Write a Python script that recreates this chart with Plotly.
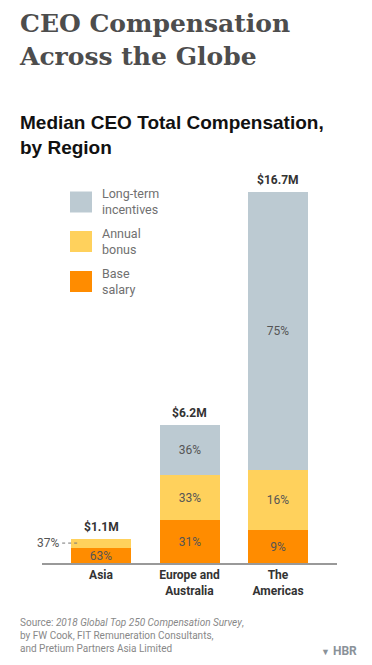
import plotly.graph_objects as go

W, H = 372, 665

regions = ["Asia", "Europe and<br>Australia", "The<br>Americas"]
totals = [1.1, 6.2, 16.7]            # $ millions
total_labels = ["$1.1M", "$6.2M", "$16.7M"]
base_pct = [63, 31, 9]
bonus_pct = [37, 33, 16]
lti_pct = [0, 36, 75]

series_names = ["Base salary", "Annual bonus", "Long-term incentives"]
legend_labels = ["Long-term<br>incentives", "Annual<br>bonus", "Base<br>salary"]
colors = {"Base salary": "#FF8C00", "Annual bonus": "#FFD15C", "Long-term incentives": "#BCCAD2"}

source_text = ("Source: <i>2018 Global Top 250 Compensation Survey</i>,<br>"
               "by FW Cook, FIT Remuneration Consultants,<br>"
               "and Pretium Partners Asia Limited")

def px(x):
    return x / W

def py(y):
    return 1 - y / H

xs = list(range(len(regions)))
BAR_W = 0.678
FONT = "Roboto"
TXT = "#555555"

fig = go.Figure()
pcts = [base_pct, bonus_pct, lti_pct]
for name, pct in zip(series_names, pcts):
    vals = [t * p / 100 for t, p in zip(totals, pct)]
    texts = []
    for i, p in enumerate(pct):
        if p == 0:
            texts.append("")
        elif name == "Annual bonus" and i == 0:
            texts.append("")  # labelled outside
        else:
            texts.append(f"{p}%")
    fig.add_trace(go.Bar(
        x=xs, y=vals, name=name, width=BAR_W,
        marker=dict(color=colors[name], line=dict(width=0)),
        text=texts, textposition="inside", insidetextanchor="middle",
        textfont=dict(family=FONT, size=12, color=TXT),
        hoverinfo="skip", showlegend=False,
    ))

annotations = []
# totals above bars
for x, t, lab in zip(xs, totals, total_labels):
    annotations.append(dict(x=x, y=t, xref="x", yref="y", text=f"<b>{lab}</b>",
                            showarrow=False, yanchor="bottom", yshift=3,
                            font=dict(family=FONT, size=12, color="#333333")))

# Asia bonus label outside with leader
asia_mid = totals[0] * (base_pct[0] + bonus_pct[0] / 2) / 100
left = xs[0] - BAR_W / 2
annotations.append(dict(x=left - 0.11, y=asia_mid, xref="x", yref="y",
                        text=f"{bonus_pct[0]}%", showarrow=False, xanchor="right",
                        font=dict(family=FONT, size=12, color=TXT)))
shapes = [dict(type="line", xref="x", yref="y", x0=left - 0.1, x1=left + 0.1,
               y0=asia_mid, y1=asia_mid, line=dict(color="#777777", width=1, dash="dot"))]

# custom legend
leg_y = [202, 241.5, 281.5]
for lab, name, yc in zip(legend_labels, series_names[::-1], leg_y):
    shapes.append(dict(type="rect", xref="paper", yref="paper",
                       x0=px(70), x1=px(92), y0=py(yc - 10.5), y1=py(yc + 10.5),
                       fillcolor=colors[name], line=dict(width=0)))
    annotations.append(dict(x=px(100), y=py(yc), xref="paper", yref="paper",
                            text=lab, showarrow=False, xanchor="left", yanchor="middle",
                            align="left", font=dict(family=FONT, size=12.5, color="#707070")))

# titles
annotations.append(dict(x=px(17), y=py(7), xref="paper", yref="paper",
                        text="<b>CEO Compensation<br>Across the Globe</b>",
                        showarrow=False, xanchor="left", yanchor="top", align="left",
                        font=dict(family="DejaVu Serif", size=25, color="#4d4d4d")))
annotations.append(dict(x=px(18), y=py(110), xref="paper", yref="paper",
                        text="<b>Median CEO Total Compensation,<br>by Region</b>",
                        showarrow=False, xanchor="left", yanchor="top", align="left",
                        font=dict(family="Liberation Sans", size=19, color="#111111")))
# source
annotations.append(dict(x=px(18), y=py(615), xref="paper", yref="paper",
                        text=source_text, showarrow=False, xanchor="left", yanchor="top",
                        align="left", font=dict(family=FONT, size=10, color="#888888")))
annotations.append(dict(x=px(359), y=py(651), xref="paper", yref="paper",
                        text="<b><span style='font-size:9px'>▼</span> HBR</b>", showarrow=False,
                        xanchor="right", yanchor="middle",
                        font=dict(family=FONT, size=12, color="#8a9299")))

base_px, top_px = 563, 150
fig.update_layout(
    width=W, height=H, margin=dict(l=0, r=0, t=0, b=0),
    paper_bgcolor="white", plot_bgcolor="white",
    barmode="stack", bargap=0,
    uniformtext=dict(minsize=11, mode="show"),
    xaxis=dict(domain=[px(42), px(337)], range=[-0.667, 2.667],
               tickmode="array", tickvals=xs, ticktext=[f"<b>{r}</b>" for r in regions],
               tickfont=dict(family=FONT, size=12, color="#333333"),
               showline=True, linecolor="#999999", linewidth=1.5,
               showgrid=False, zeroline=False, ticks=""),
    yaxis=dict(domain=[py(base_px), py(top_px)],
               range=[0, 16.7 * (base_px - top_px) / (563 - 192)],
               visible=False, showgrid=False, zeroline=False),
    annotations=annotations, shapes=shapes,
)

fig.write_html("out.html", config={"displayModeBar": False},
               post_script="document.body.style.margin='0';")
